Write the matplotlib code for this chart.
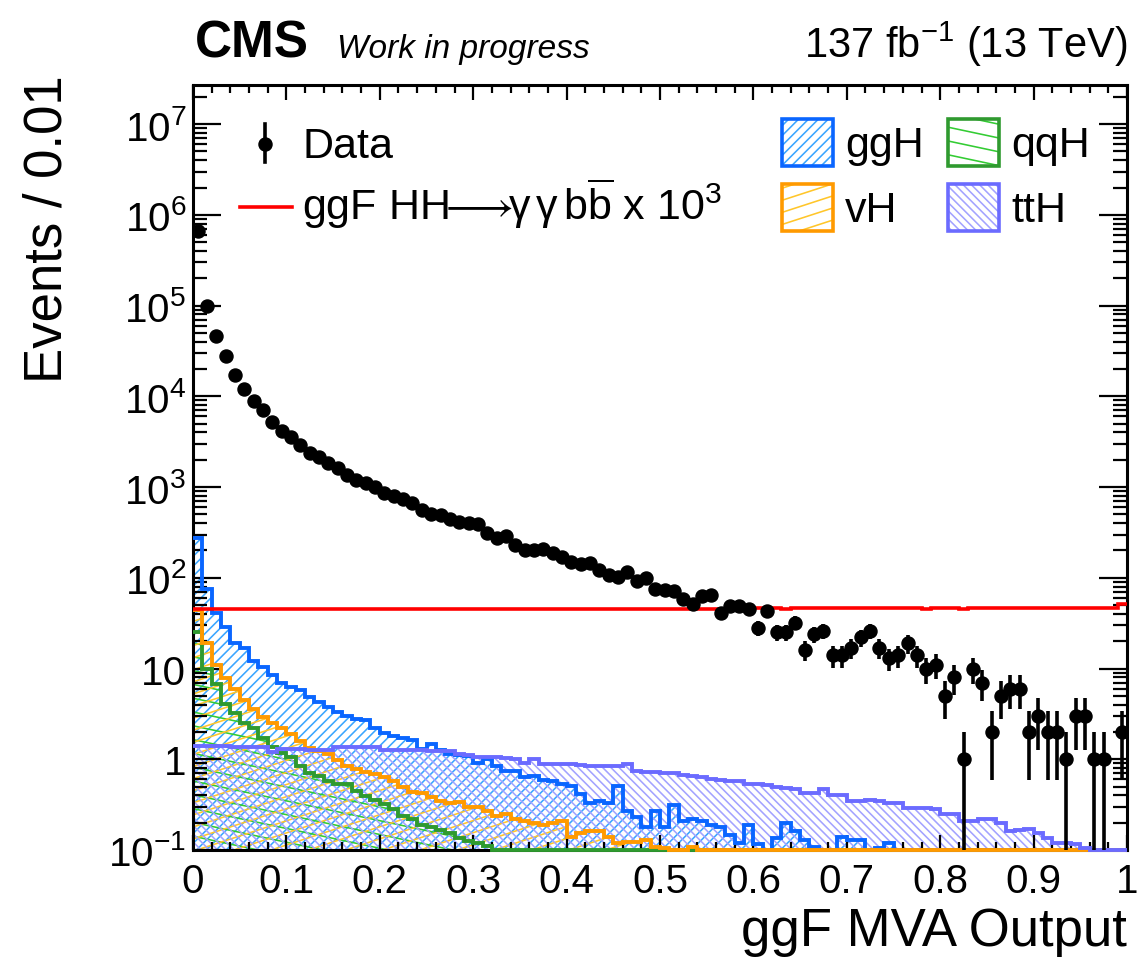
import numpy as np
import matplotlib
matplotlib.use('Agg')
import matplotlib.pyplot as plt
from matplotlib.collections import LineCollection
from matplotlib.patches import Rectangle
from matplotlib.ticker import FixedLocator, FixedFormatter, MultipleLocator, LogLocator, NullFormatter

plt.rcParams['font.family'] = ['Liberation Sans', 'DejaVu Sans']
plt.rcParams['mathtext.fontset'] = 'custom'
plt.rcParams['mathtext.rm'] = 'Liberation Sans'
plt.rcParams['mathtext.it'] = 'Liberation Sans:italic'
plt.rcParams['mathtext.bf'] = 'Liberation Sans:bold'

# 100 bins of 0.01 on the MVA output
n_bins = 100
edges = np.linspace(0, 1, n_bins + 1)
centers = 0.5 * (edges[1:] + edges[:-1])

data_counts = [660000, 100000, 46000, 27500, 17400, 12000, 8900, 7100, 5250, 4170,
               3550, 2880, 2400, 2140, 1860, 1620, 1350, 1200, 1100, 1000,
               870, 794, 741, 661, 562, 501, 490, 447, 417, 398,
               389, 309, 275, 292, 229, 204, 204, 206, 186, 170,
               148, 141, 145, 123, 107, 102, 115, 93, 100, 76,
               74, 71, 59, 52, 63, 65, 41, 49, 49, 45,
               28, 43, 25, 25, 32, 16, 24, 26, 14, 14,
               17, 22, 26, 17, 13, 14, 19, 14, 10, 11,
               5, 8, 1, 10, 7, 2, 5, 6, 6, 2,
               3, 2, 2, 1, 3, 3, 1, 1, 0, 2]

ggh = [275, 76, 41, 29, 19, 17, 12, 10.3, 8.4, 7.0,
       6.3, 5.8, 4.8, 4.3, 3.8, 3.3, 3.0, 2.8, 2.7, 2.2,
       1.96, 1.82, 1.73, 1.65, 1.31, 1.49, 1.27, 1.15, 1.12, 1.09,
       0.90, 1.0, 0.85, 0.75, 0.75, 0.63, 0.66, 0.59, 0.58, 0.53,
       0.51, 0.41, 0.33, 0.35, 0.33, 0.51, 0.27, 0.23, 0.18, 0.27,
       0.18, 0.31, 0.21, 0.22, 0.21, 0.19, 0.18, 0.148, 0.12, 0.19,
       0.115, 0, 0.137, 0.20, 0.16, 0.13, 0.107, 0, 0, 0.14,
       0.13, 0.13, 0, 0.105, 0.12, 0, 0, 0.1, 0, 0,
       0, 0, 0, 0, 0, 0, 0, 0, 0, 0,
       0, 0, 0, 0, 0, 0, 0, 0, 0, 0]

qqh = [25, 10, 6.7, 4.1, 3.2, 2.5, 2.2, 1.7, 1.35, 1.18,
       1.05, 0.85, 0.70, 0.66, 0.58, 0.53, 0.53, 0.45, 0.39, 0.36,
       0.32, 0.28, 0.24, 0.22, 0.19, 0.18, 0.166, 0.155, 0.135, 0.127,
       0.12, 0.11, 0.10, 0.08, 0.07, 0.07, 0.06, 0.06, 0.05, 0.05,
       0.05, 0.04, 0.04, 0.04, 0.03, 0.03, 0.03, 0.03, 0.02, 0.02,
       0.02, 0.02, 0.02, 0.02, 0.02, 0.02, 0, 0, 0, 0,
       0, 0, 0, 0, 0, 0, 0, 0, 0, 0,
       0, 0, 0, 0, 0, 0, 0, 0, 0, 0,
       0, 0, 0, 0, 0, 0, 0, 0, 0, 0,
       0, 0, 0, 0, 0, 0, 0, 0, 0, 0]

vh = [44, 19, 11, 7.8, 6.0, 4.5, 3.6, 2.9, 2.5, 2.2,
      1.9, 1.6, 1.32, 1.24, 1.15, 0.98, 0.85, 0.79, 0.73, 0.69,
      0.63, 0.57, 0.50, 0.44, 0.43, 0.38, 0.35, 0.33, 0.34, 0.30,
      0.30, 0.27, 0.24, 0.25, 0.22, 0.21, 0.20, 0.19, 0.20, 0.21,
      0.14, 0.155, 0.16, 0.16, 0.14, 0.12, 0.124, 0.122, 0.13, 0.107,
      0.104, 0.06, 0.06, 0.107, 0.06, 0.05, 0.05, 0.05, 0.05, 0.05,
      0.05, 0.05, 0.04, 0.04, 0.04, 0.04, 0.04, 0.04, 0.04, 0.04,
      0.03, 0.03, 0.03, 0.03, 0.03, 0.03, 0.03, 0.03, 0.03, 0.03,
      0.02, 0.02, 0.02, 0.02, 0.02, 0.02, 0.02, 0.02, 0.02, 0.02,
      0.02, 0.02, 0.02, 0.02, 0.02, 0.02, 0.02, 0.02, 0.01, 0.01]

tth = [1.41, 1.41, 1.41, 1.41, 1.36, 1.36, 1.36, 1.36, 1.19, 1.30,
       1.30, 1.30, 1.25, 1.25, 1.25, 1.38, 1.38, 1.38, 1.35, 1.35,
       1.28, 1.28, 1.27, 1.27, 1.26, 1.22, 1.22, 1.22, 1.15, 1.12,
       1.05, 1.05, 1.05, 1.04, 1.00, 0.92, 1.00, 0.89, 0.89, 0.89,
       0.89, 0.87, 0.85, 0.85, 0.85, 0.85, 0.89, 0.74, 0.73, 0.72,
       0.71, 0.70, 0.67, 0.66, 0.64, 0.60, 0.59, 0.58, 0.57, 0.53,
       0.53, 0.52, 0.50, 0.48, 0.47, 0.43, 0.43, 0.47, 0.40, 0.40,
       0.35, 0.35, 0.36, 0.35, 0.33, 0.33, 0.29, 0.29, 0.29, 0.28,
       0.25, 0.25, 0.21, 0.21, 0.22, 0.22, 0.20, 0.16, 0.165, 0.17,
       0.155, 0.135, 0.12, 0.12, 0.115, 0.106, 0.10, 0.08, 0.07, 0.07]

hh_signal = [45, 45, 45, 45, 45, 45, 45, 45, 45, 45,
             45, 45, 45, 45, 45, 45, 45, 45, 45, 45,
             45, 45, 45, 45, 45, 45, 45, 45, 45, 45,
             45, 45, 45, 45, 45, 45, 45, 45, 45, 45,
             45, 45, 45, 45, 45, 45, 45, 45, 45, 45,
             45, 45, 45, 45, 45, 45, 45, 45, 45, 45,
             46, 46, 46, 45, 46, 46, 46, 46, 46, 46,
             46, 46, 46, 46, 46, 46, 46, 46, 45, 46,
             46, 46, 45, 46, 46, 46, 46, 46, 46, 46,
             46, 46, 46, 46, 46, 46, 46, 46, 46, 51]

x_ticks = [0, 0.1, 0.2, 0.3, 0.4, 0.5, 0.6, 0.7, 0.8, 0.9, 1]
x_tick_labels = ['0', '0.1', '0.2', '0.3', '0.4', '0.5', '0.6', '0.7', '0.8', '0.9', '1']
y_ticks = [1e-1, 1, 10, 1e2, 1e3, 1e4, 1e5, 1e6, 1e7]
y_tick_labels = [r'10$^{-1}$', '1', '10', r'10$^{2}$', r'10$^{3}$', r'10$^{4}$',
                 r'10$^{5}$', r'10$^{6}$', r'10$^{7}$']

ymin, ymax = 0.1, 2.7e7

# colours: outline, hatch, values, hatch angle, hatch spacing (px)
procs = {
    'ggH': ('#0a66ff', '#3aa6ff', ggh, 45, 7.0),
    'qqH': ('#2f9a2f', '#33cc33', qqh, -12, 13.5),
    'vH': ('#ff9a00', '#ffc62a', vh, 18, 11.5),
    'ttH': ('#6b6bff', '#a3a3ff', tth, -45, 5.8),
}

fig_w, fig_h, dpi = 11.4, 9.62, 100
fig = plt.figure(figsize=(fig_w, fig_h), dpi=dpi)
ax_rect = [193 / 1140, 111 / 962, 934 / 1140, 765 / 962]
ax = fig.add_axes(ax_rect)
W = fig_w * dpi * ax_rect[2]
H = fig_h * dpi * ax_rect[3]


def hatch(ax, clip_patch, angle, spacing, color, lw=1.15, zorder=2):
    a = np.deg2rad(angle)
    d = np.array([np.cos(a), np.sin(a)])
    n = np.array([-np.sin(a), np.cos(a)])
    corners = np.array([[0, 0], [W, 0], [0, H], [W, H]])
    c = corners @ n
    L = W + H
    segs = []
    for cc in np.arange(c.min(), c.max() + spacing, spacing):
        p = cc * n
        p0 = p - L * d
        p1 = p + L * d
        segs.append([(p0[0] / W, p0[1] / H), (p1[0] / W, p1[1] / H)])
    lc = LineCollection(segs, colors=color, linewidths=lw, transform=ax.transAxes, zorder=zorder)
    ax.add_collection(lc, autolim=False)
    lc.set_clip_path(clip_patch)


ax.set_yscale('log')
ax.set_xlim(0, 1)
ax.set_ylim(ymin, ymax)

# hatched fills
for name, (lc_, hc, vals, ang, sp) in procs.items():
    v = np.maximum(np.array(vals, dtype=float), 1e-3)
    area = ax.stairs(v, edges, baseline=1e-3, fill=True, facecolor='none',
                     edgecolor='none', linewidth=0)
    hatch(ax, area, ang, sp, hc, zorder=2)

# outlines (bins below the axis range sit on the x axis, as in ROOT)
for name in ['qqH', 'ggH', 'vH', 'ttH']:
    lc_, hc, vals, ang, sp = procs[name]
    v = np.clip(np.array(vals, dtype=float), ymin, None)
    ax.stairs(v, edges, baseline=None, color=lc_, linewidth=2.8, zorder=3, clip_on=False)

ax.stairs(hh_signal, edges, baseline=None, color='#ff0000', linewidth=2.6, zorder=4)

counts = np.array(data_counts, dtype=float)
m = counts > 0
err = np.sqrt(counts[m])
lo = np.minimum(err, counts[m] - 1e-3)
ax.errorbar(centers[m], counts[m], yerr=[lo, err], fmt='o', color='black',
            markersize=9.4, elinewidth=2.6, capsize=0, zorder=5)

# axes styling
ax.xaxis.set_major_locator(FixedLocator(x_ticks))
ax.xaxis.set_major_formatter(FixedFormatter(x_tick_labels))
ax.xaxis.set_minor_locator(MultipleLocator(0.02))
ax.yaxis.set_major_locator(FixedLocator(y_ticks))
ax.yaxis.set_major_formatter(FixedFormatter(y_tick_labels))
ax.yaxis.set_minor_locator(LogLocator(base=10, subs=np.arange(2, 10), numticks=100))
ax.yaxis.set_minor_formatter(NullFormatter())
ax.tick_params(axis='both', which='both', direction='in', top=True, right=True, width=1.6)
ax.tick_params(axis='x', which='major', length=11, labelsize=29, pad=9)
ax.tick_params(axis='x', which='minor', length=5.5)
ax.tick_params(axis='y', which='major', length=20, labelsize=29, pad=5)
ax.tick_params(axis='y', which='minor', length=10)
for s in ax.spines.values():
    s.set_linewidth(2.2)
ax.set_axisbelow(False)


def to_ax(px, py):
    return (px - 193) / 934, (851 - py) / 765


# legend: data and signal
mx, my = to_ax(265, 145)
ax.plot([mx], [my], 'o', color='black', markersize=9.4, transform=ax.transAxes, clip_on=False, zorder=6)
ex, ey1 = to_ax(265, 125)
_, ey2 = to_ax(265, 163)
ax.plot([ex, ex], [ey1, ey2], color='black', lw=2.6, transform=ax.transAxes, zorder=6)
tx, ty = to_ax(302, 158)
ax.text(tx, ty, 'Data', transform=ax.transAxes, fontsize=31, va='baseline', ha='left')
rx1, ry = to_ax(240, 208)
rx2, _ = to_ax(292, 208)
ax.plot([rx1, rx2], [ry, ry], color='#ff0000', lw=2.6, transform=ax.transAxes, zorder=6)
tx, ty = to_ax(302, 220)
ax.text(tx, ty, r'ggF HH$\!\!\longrightarrow\!\!\mathrm{\gamma\,\gamma\,b\overline{b}}$ x 10$^{3}$',
        transform=ax.transAxes, fontsize=31, va='baseline', ha='left')

# legend: single Higgs boxes
boxes = [('ggH', 782, 120), ('qqH', 948, 120), ('vH', 782, 185), ('ttH', 948, 185)]
for name, bx, by in boxes:
    lc_, hc, vals, ang, sp = procs[name]
    x0, y1 = to_ax(bx, by)
    x1, y0 = to_ax(bx + 51, by + 47)
    rect = Rectangle((x0, y0), x1 - x0, y1 - y0, transform=ax.transAxes,
                     facecolor='none', edgecolor=lc_, linewidth=2.6, zorder=6)
    ax.add_patch(rect)
    hatch(ax, rect, ang, sp, hc, zorder=5.5)
    tx, ty = to_ax(bx + 63, by + 37)
    ax.text(tx, ty, name, transform=ax.transAxes, fontsize=31, va='baseline', ha='left')

# header and axis titles
fig.text(195 / 1140, 1 - 58 / 962, 'CMS', fontsize=37, fontweight='bold', va='baseline', ha='left')
fig.text(337 / 1140, 1 - 58 / 962, 'Work in progress', fontsize=24, fontstyle='italic',
         va='baseline', ha='left')
fig.text(1127 / 1140, 1 - 58 / 962, r'137 fb$^{\mathrm{-1}}$ (13 TeV)', fontsize=30,
         va='baseline', ha='right')
fig.text(48 / 1140, 1 - 75 / 962, 'Events / 0.01', fontsize=38, rotation=90,
         va='top', ha='center')
fig.text(1127 / 1140, 1 - 946 / 962, 'ggF MVA Output', fontsize=38, va='baseline', ha='right')

fig.savefig('out.png', dpi=dpi)
